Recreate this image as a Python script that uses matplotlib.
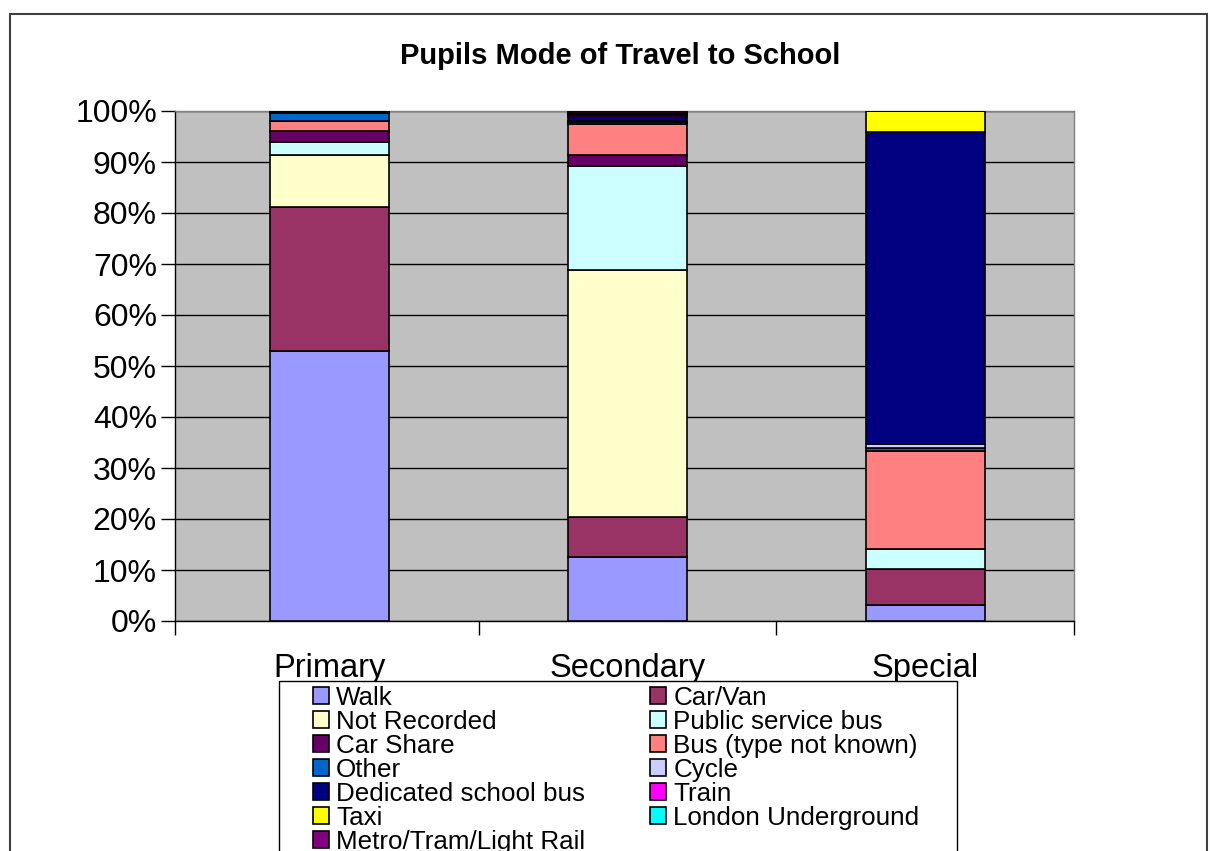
import matplotlib
matplotlib.use("Agg")
import matplotlib.pyplot as plt
from matplotlib.patches import Rectangle, Patch
import numpy as np

plt.rcParams['font.family'] = ['Liberation Sans', 'DejaVu Sans']

categories = ["Primary", "Secondary", "Special"]
modes = ["Walk", "Car/Van", "Not Recorded", "Public service bus", "Car Share",
         "Bus (type not known)", "Other", "Cycle", "Dedicated school bus",
         "Train", "Taxi", "London Underground", "Metro/Tram/Light Rail"]

walk = [52.9, 12.5, 3.1]
car_van = [28.2, 7.8, 7.1]
not_recorded = [10.2, 48.6, 0.0]
public_bus = [2.7, 20.4, 3.9]
car_share = [2.0, 2.0, 0.0]
bus_unknown = [2.0, 6.2, 19.2]
other = [1.6, 0.3, 0.7]
cycle = [0.2, 0.2, 0.8]
dedicated_bus = [0.2, 0.8, 61.1]
train = [0.0, 0.5, 0.0]
taxi = [0.0, 0.2, 4.1]
london_underground = [0.0, 0.2, 0.0]
metro = [0.0, 0.3, 0.0]

series = [walk, car_van, not_recorded, public_bus, car_share, bus_unknown,
          other, cycle, dedicated_bus, train, taxi, london_underground, metro]
colors = ["#9999FF", "#993366", "#FFFFCC", "#CCFFFF", "#660066", "#FF8080",
          "#0066CC", "#CCCCFF", "#000080", "#FF00FF", "#FFFF00", "#00FFFF",
          "#800080"]

W, H = 1210, 851
fig = plt.figure(figsize=(W / 100, H / 100), dpi=100)
fig.patch.set_facecolor("white")

# outer chart frame
fig.patches.append(Rectangle((10 / W, -0.05), (1207 - 10) / W, 1.05 - 14 / H,
                             transform=fig.transFigure, fill=False,
                             edgecolor="#404040", linewidth=1.5, zorder=0))

ax = fig.add_axes([175 / W, 1 - 621 / H, (1074 - 175) / W, (621 - 111) / H])
ax.set_facecolor("#C0C0C0")

x = np.arange(len(categories))
bottom = np.zeros(len(categories))
handles = []
for vals, col, name in zip(series, colors, modes):
    v = np.array(vals)
    ax.bar(x, v, 0.4, bottom=bottom, color=col, edgecolor="black",
           linewidth=1.2, zorder=3)
    bottom += v
    handles.append(Patch(facecolor=col, edgecolor="black", linewidth=1.2, label=name))

ax.set_xlim(-0.52, 2.5)
ax.set_ylim(0, 100)
yt = np.arange(0, 101, 10)
ax.set_yticks(yt)
ax.set_yticklabels([f"{v}%" for v in yt], fontsize=23)
ax.yaxis.grid(True, color="black", linewidth=1.0, zorder=1)
ax.set_axisbelow(True)
ax.tick_params(axis="y", direction="out", length=10, width=1, pad=3)

ax.set_xticks(x)
ax.set_xticklabels(categories, fontsize=23.5)
ax.set_xticks([-0.52, 0.5, 1.5, 2.5], minor=True)
ax.tick_params(axis="x", which="major", length=0, pad=23)
ax.tick_params(axis="x", which="minor", direction="out", length=10, width=1)

for s in ["left", "bottom"]:
    ax.spines[s].set_color("black")
    ax.spines[s].set_linewidth(1.0)
for s in ["top", "right"]:
    ax.spines[s].set_color("#808080")
    ax.spines[s].set_linewidth(1.0)

fig.text(620 / W, 1 - 64 / H, "Pupils Mode of Travel to School", fontsize=21,
         fontweight="bold", ha="center", va="baseline")

# legend box (white, drawn over category labels)
fig.patches.append(Rectangle((279 / W, -0.05), (957 - 279) / W, 1.05 - 681 / H,
                             transform=fig.transFigure, facecolor="white",
                             edgecolor="black", linewidth=1.0, zorder=5))

order = [0, 2, 4, 6, 8, 10, 12, 1, 3, 5, 7, 9, 11]
leg = fig.legend([handles[i] for i in order], [modes[i] for i in order],
                 ncol=2, loc="upper left",
                 bbox_to_anchor=(313 / W, 1 - 686 / H),
                 frameon=False, fontsize=18.7, borderpad=0, borderaxespad=0,
                 handlelength=0.62, handleheight=0.62, handletextpad=0.27,
                 labelspacing=0.0, columnspacing=2.5)
leg.set_zorder(6)

fig.savefig("out.png", dpi=100)
